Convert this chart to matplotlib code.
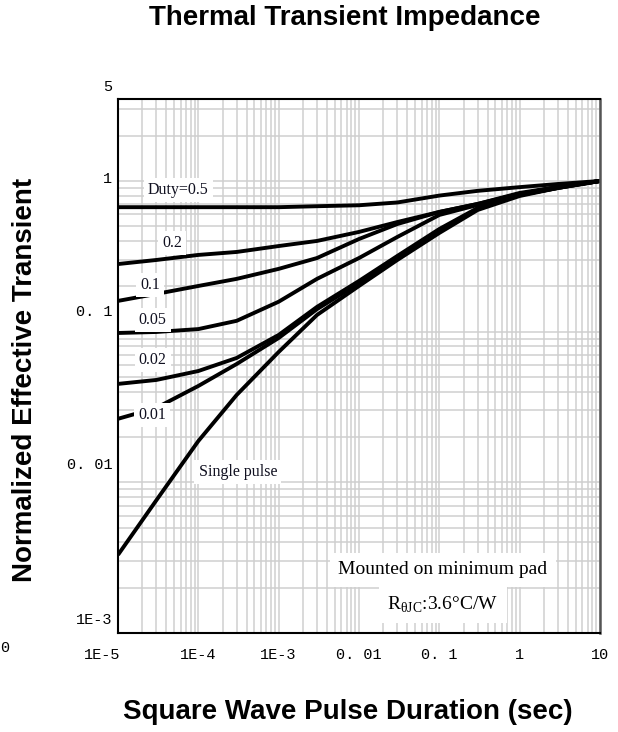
import matplotlib
matplotlib.use("Agg")
import matplotlib.pyplot as plt
from matplotlib.transforms import ScaledTranslation

# pulse duration (s) and normalized transient impedance
t = [1e-5, 3e-5, 1e-4, 3e-4, 1e-3, 3e-3, 1e-2, 3e-2, 0.1, 0.3, 1, 3, 10]
duty_05 = [0.67, 0.67, 0.67, 0.67, 0.67, 0.68, 0.69, 0.72, 0.80, 0.86, 0.91, 0.955, 1.0]
duty_02 = [0.281, 0.299, 0.323, 0.338, 0.370, 0.400, 0.459, 0.534, 0.623, 0.704, 0.833, 0.912, 1.0]
duty_01 = [0.160, 0.178, 0.201, 0.224, 0.261, 0.308, 0.412, 0.518, 0.623, 0.704, 0.820, 0.912, 1.0]
duty_005 = [0.098, 0.0995, 0.104, 0.118, 0.158, 0.224, 0.308, 0.425, 0.595, 0.693, 0.820, 0.912, 1.0]
duty_002 = [0.0450, 0.0478, 0.0548, 0.0669, 0.0951, 0.146, 0.217, 0.318, 0.480, 0.662, 0.807, 0.899, 1.0]
duty_001 = [0.0264, 0.0312, 0.0436, 0.0610, 0.0908, 0.141, 0.210, 0.308, 0.466, 0.652, 0.807, 0.899, 1.0]
single = [0.0033, 0.0076, 0.0188, 0.0380, 0.0733, 0.129, 0.201, 0.299, 0.452, 0.642, 0.795, 0.899, 1.0]

curve_labels = ["Duty=0.5", "0.2", "0.1", "0.05", "0.02", "0.01", "Single pulse"]
label_x = [5.6e-5, 4.7e-5, 2.5e-5, 2.7e-5, 2.7e-5, 2.65e-5, 3.1e-4]
label_y = [0.872, 0.388, 0.204, 0.120, 0.065, 0.028, 0.0117]

x_ticks = [1e-5, 1e-4, 1e-3, 1e-2, 1e-1, 1, 10]
x_ticklabels = ["1E-5", "1E-4", "1E-3", "0. 01", "0. 1", "1", "10"]
x_label_shift = [-16, 0, 0, 0, 0, 0, 0]  # px
y_ticks = [1e-3, 1e-2, 1e-1, 1]
y_ticklabels = ["1E-3", "0. 01", "0. 1", "1"]
y_label_lift = [15, 19, 21, 3]  # px, labels sit above their lines in the picture

serif = "Liberation Serif"
mono = "Liberation Mono"
sans = "Liberation Sans"

plt.rcParams["mathtext.fontset"] = "custom"
plt.rcParams["mathtext.rm"] = serif

fig = plt.figure(figsize=(6.18, 7.32), dpi=100)
ax = fig.add_axes([118 / 618, 99 / 732, 482 / 618, 534 / 732])
ax.set_xscale("log")
ax.set_yscale("log")
ax.set_xlim(1e-5, 10)
ax.set_ylim(1e-3, 3.5)
ax.set_axisbelow(True)
ax.grid(True, which="both", color="#cfcfcf", lw=1.1)

for ys in [duty_05, duty_02, duty_01, duty_005, duty_002, duty_001, single]:
    ax.plot(t, ys, color="black", lw=2.8, solid_capstyle="butt")

for txt, lx, ly in zip(curve_labels, label_x, label_y):
    ax.text(lx, ly, txt, fontfamily=serif, fontsize=11.5, color="#101020",
            ha="center", va="center",
            bbox=dict(facecolor="white", edgecolor="none", pad=3))

ax.text(0.111, 0.00262, "Mounted on minimum pad", fontfamily=serif, fontsize=14,
        ha="center", va="center",
        bbox=dict(facecolor="white", edgecolor="none", pad=6))
ax.text(0.111, 0.00154, r"R$_{\mathrm{\theta JC}}$:3.6°C/W", fontfamily=serif,
        fontsize=14, ha="center", va="center",
        bbox=dict(facecolor="white", edgecolor="none", pad=6))

ax.set_xticks(x_ticks)
ax.set_xticklabels(x_ticklabels)
ax.set_yticks(y_ticks)
ax.set_yticklabels(y_ticklabels)
ax.minorticks_on()
ax.tick_params(which="both", length=0)
ax.tick_params(axis="x", pad=11)
ax.tick_params(axis="y", pad=4)
for lab in ax.get_xticklabels() + ax.get_yticklabels():
    lab.set_fontfamily(mono)
    lab.set_fontsize(11)
for lab, dx in zip(ax.get_xticklabels(), x_label_shift):
    lab.set_transform(lab.get_transform() + ScaledTranslation(dx / 100, 0, fig.dpi_scale_trans))
for lab, lift in zip(ax.get_yticklabels(), y_label_lift):
    lab.set_transform(lab.get_transform() + ScaledTranslation(0, lift / 100, fig.dpi_scale_trans))
ax.text(-0.012, 1.01, "5", transform=ax.transAxes, ha="right", va="bottom",
        fontfamily=mono, fontsize=11)

for side in ["left", "bottom", "top"]:
    ax.spines[side].set_linewidth(1.5)
ax.spines["right"].set_linewidth(1.8)
ax.spines["right"].set_color("#555555")

fig.text(345 / 618, 1 - 18 / 732, "Thermal Transient Impedance", fontfamily=sans,
         fontweight="bold", fontsize=20, ha="center", va="center")
fig.text(348 / 618, 1 - 712 / 732, "Square Wave Pulse Duration (sec)", fontfamily=sans,
         fontweight="bold", fontsize=20, ha="center", va="center")
fig.text(25 / 618, 1 - 380 / 732, "Normalized Effective Transient", fontfamily=sans,
         fontweight="bold", fontsize=20, ha="center", va="center", rotation=90)
fig.text(0, 1 - 648 / 732, "0", fontfamily=mono, fontsize=11, ha="left", va="center")

fig.savefig("out.png", dpi=100)
